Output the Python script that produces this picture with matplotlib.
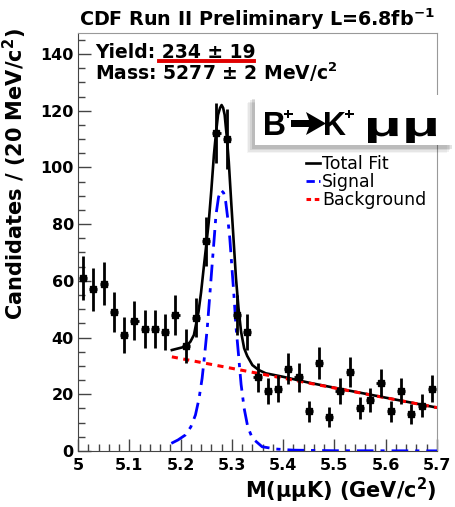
import numpy as np
import matplotlib.pyplot as plt
from matplotlib.patches import FancyBboxPatch, Polygon, PathPatch
from matplotlib.lines import Line2D
from matplotlib.ticker import MultipleLocator
from matplotlib.textpath import TextPath
from matplotlib.font_manager import FontProperties
from matplotlib.transforms import Affine2D, IdentityTransform

plt.rcParams['font.family'] = ['DejaVu Sans']
plt.rcParams['mathtext.default'] = 'regular'

# histogram: candidates per 20 MeV/c^2 bin
bin_centers = [5.01, 5.03, 5.05, 5.07, 5.09, 5.11, 5.13, 5.15, 5.17, 5.19,
               5.21, 5.23, 5.25, 5.27, 5.29, 5.31, 5.33, 5.35, 5.37, 5.39,
               5.41, 5.43, 5.45, 5.47, 5.49, 5.51, 5.53, 5.55, 5.57, 5.59,
               5.61, 5.63, 5.65, 5.67, 5.69]
counts = [61, 57, 59, 49, 41, 46, 43, 43, 42, 48,
          37, 47, 74, 112, 110, 48, 42, 26, 21, 22,
          29, 26, 14, 31, 12, 21, 28, 15, 18, 24,
          14, 21, 13, 16, 22]

# fit curves
total_x = [5.183, 5.209, 5.219, 5.226, 5.235, 5.240, 5.245, 5.250, 5.255, 5.260,
           5.265, 5.269, 5.273, 5.277, 5.280, 5.283, 5.286, 5.290, 5.294, 5.299,
           5.304, 5.308, 5.313, 5.318, 5.324, 5.330, 5.340, 5.352, 5.366, 5.399,
           5.45, 5.50, 5.60, 5.70]
total_y = [35.6, 36.8, 38.5, 40.9, 49.1, 56.0, 64.4, 72.5, 80.9, 92.0,
           104.4, 112.0, 118.5, 121.0, 122.0, 121.0, 118.5, 111.0, 102.0, 87.0,
           72.6, 61.0, 50.3, 42.0, 36.2, 33.5, 30.3, 28.6, 27.4, 26.2,
           24.1, 22.3, 18.8, 15.3]

signal_x = [5.182, 5.195, 5.209, 5.220, 5.229, 5.236, 5.242, 5.247, 5.252, 5.257,
            5.262, 5.266, 5.269, 5.274, 5.279, 5.284, 5.288, 5.292, 5.296, 5.300,
            5.304, 5.308, 5.313, 5.318, 5.324, 5.331, 5.340, 5.359, 5.386, 5.42,
            5.50, 5.70]
signal_y = [2.7, 3.9, 5.6, 8.5, 12.7, 18.5, 25.6, 34.0, 43.3, 55.0,
            66.8, 76.0, 83.2, 89.5, 92.0, 91.0, 87.9, 82.0, 75.0, 65.0,
            55.0, 44.0, 33.9, 23.5, 15.0, 8.5, 4.5, 1.5, 0.7, 0.3,
            0.1, 0.05]

bkg_x = [5.183, 5.70]
bkg_y = [33.2, 15.3]

W, H = 455, 507


def fx(px):
    return px / W


def fy(py):
    return 1 - py / H


fig = plt.figure(figsize=(W / 100, H / 100), dpi=100)
fig.patch.set_facecolor('white')
ax = fig.add_axes([fx(78), fy(451), 359 / W, 418 / H])

errs = np.sqrt(counts)
ax.errorbar(bin_centers, counts, yerr=errs, xerr=0.008, fmt='s', color='black',
            ms=4, elinewidth=2.0, capsize=0, zorder=5)

ax.plot(total_x, total_y, color='black', lw=1.9, zorder=3)
ax.plot(signal_x, signal_y, color='#0000ff', lw=2.0, zorder=3,
        dashes=(6, 2.5, 1.5, 2.5))
ax.plot(bkg_x, bkg_y, color='#ff0000', lw=2.2, zorder=4, dashes=(2, 1.8))

ax.set_xlim(5.0, 5.7)
ax.set_ylim(0, 147.4)
ax.xaxis.set_major_locator(MultipleLocator(0.1))
ax.xaxis.set_minor_locator(MultipleLocator(0.02))
ax.yaxis.set_major_locator(MultipleLocator(20))
ax.yaxis.set_minor_locator(MultipleLocator(5))
ax.xaxis.set_major_formatter(plt.FuncFormatter(lambda v, p: f'{v:g}'))
ax.yaxis.set_major_formatter(plt.FuncFormatter(lambda v, p: f'{v:g}'))
ax.tick_params(which='both', direction='in', color='#444444', width=1)
ax.tick_params(which='major', length=9)
ax.tick_params(which='minor', length=5)
ax.tick_params(axis='y', pad=3, labelsize=11.5)
ax.tick_params(axis='x', pad=5, labelsize=11.5)
for lab in ax.get_xticklabels() + ax.get_yticklabels():
    lab.set_fontweight('bold')
for s in ['left', 'bottom']:
    ax.spines[s].set_color('#444444')
for s in ['top', 'right']:
    ax.spines[s].set_color('#999999')

# titles and labels
fig.text(fx(257), fy(19), 'CDF Run II Preliminary L=6.8fb$^{-1}$',
         ha='center', va='center', fontsize=13.8, fontweight='bold')
fig.text(fx(15), fy(28), 'Candidates / (20 MeV/c$^{2}$)', rotation=90,
         ha='center', va='top', fontsize=15, fontweight='bold')
fig.text(fx(437), fy(490), 'M(μμK) (GeV/c$^{2}$)', ha='right',
         va='center', fontsize=15, fontweight='bold')

fig.text(fx(95), fy(52), 'Yield: 234 ± 19', ha='left', va='center',
         fontsize=13.5, fontweight='bold')
fig.text(fx(95), fy(72), 'Mass: 5277 ± 2 MeV/c$^{2}$', ha='left',
         va='center', fontsize=13.5, fontweight='bold')
fig.add_artist(Line2D([fx(159), fx(254)], [fy(61), fy(61)],
                      color='#e00000', lw=2.8))

# decay label box with soft shadow
for i, a in enumerate([0.04, 0.06, 0.08, 0.11]):
    off = (4 - i) * 1.5
    fig.add_artist(FancyBboxPatch((fx(253 - off), fy(147 + off)),
                                  200 / W, 50 / H,
                                  boxstyle='square,pad=0', transform=fig.transFigure,
                                  facecolor='black', edgecolor='none', alpha=a))
fig.add_artist(FancyBboxPatch((fx(255), fy(145)), 200 / W, 50 / H,
                              boxstyle='square,pad=0', transform=fig.transFigure,
                              facecolor='white', edgecolor='none'))
box_prop = FontProperties(family='Liberation Sans', weight='bold')


def glyphs(text, size, left, top, width=None, height=None):
    # place a text outline by its ink box, in output pixels
    tp = TextPath((0, 0), text, size=size, prop=box_prop)
    ext = tp.get_extents()
    sx = width / ext.width if width else 1.0
    sy = height / ext.height if height else 1.0
    tr = (Affine2D().translate(-ext.x0, -ext.y1).scale(sx, sy)
          .translate(left, H - top))
    fig.add_artist(PathPatch(tp, transform=tr + IdentityTransform(),
                             facecolor='black', edgecolor='none'))


glyphs('B', 32, 265, 112, height=23)
glyphs('+', 14, 284, 110, width=8.5, height=8.5)
glyphs('K', 32, 325, 112, height=23)
glyphs('+', 14, 345, 110, width=8.5, height=8.5)
glyphs('μμ', 28, 368, 118, width=68, height=25)
arrow_px = [(291, 120), (309, 120), (306, 112), (326, 123.5), (306, 135),
            (309, 127), (291, 127)]
fig.add_artist(Polygon([(fx(x), fy(y)) for x, y in arrow_px], closed=True,
                       transform=fig.transFigure, facecolor='black',
                       edgecolor='none'))

# legend
handles = [Line2D([], [], color='black', lw=1.9),
           Line2D([], [], color='#0000ff', lw=2.0, dashes=(3, 1.5, 1, 1.5)),
           Line2D([], [], color='#ff0000', lw=2.2, dashes=(1.5, 1.2))]
fig.legend(handles, ['Total Fit', 'Signal', 'Background'], loc='upper left',
           bbox_to_anchor=(fx(297), fy(146)), frameon=False, fontsize=12.5,
           handlelength=0.85, handletextpad=0.1, labelspacing=0.0, borderpad=0)

fig.savefig('out.png', dpi=100)
